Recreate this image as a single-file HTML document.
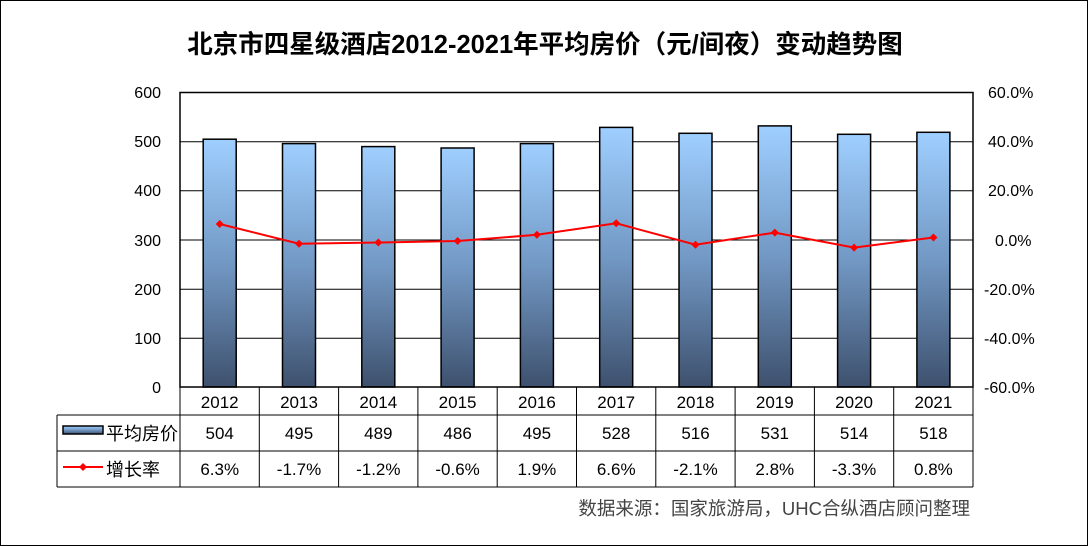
<!DOCTYPE html>
<html><head><meta charset="utf-8"><style>
html,body{margin:0;padding:0;background:#fff}
svg{display:block;font-family:"Liberation Sans","Noto Sans CJK SC",sans-serif}
</style></head><body>
<svg width="1088" height="546" viewBox="0 0 1088 546" xmlns="http://www.w3.org/2000/svg">
<defs>
<linearGradient id="g" x1="0" y1="0" x2="0" y2="1">
<stop offset="0" stop-color="#9fcfff"/><stop offset="0.5" stop-color="#7298c4"/><stop offset="1" stop-color="#3e516e"/>
</linearGradient>
</defs>
<rect x="0.5" y="0.5" width="1087" height="545" fill="#fff" stroke="#000"/>
<text x="545" y="53" text-anchor="middle" font-size="25.5" font-weight="bold" font-family="'Liberation Sans','Noto Sans CJK SC',sans-serif">北京市四星级酒店2012-2021年平均房价（元/间夜）变动趋势图</text>
<g stroke="#000" stroke-width="1">
<line x1="180" y1="141.7" x2="973" y2="141.7"/>
<line x1="180" y1="190.8" x2="973" y2="190.8"/>
<line x1="180" y1="240" x2="973" y2="240"/>
<line x1="180" y1="289.2" x2="973" y2="289.2"/>
<line x1="180" y1="338.3" x2="973" y2="338.3"/>
</g>
<g fill="url(#g)" stroke="#000" stroke-width="1.5">
<rect x="203.2" y="139.2" width="33" height="247.8"/>
<rect x="282.5" y="143.6" width="33" height="243.4"/>
<rect x="361.8" y="146.6" width="33" height="240.4"/>
<rect x="441.1" y="148.0" width="33" height="239"/>
<rect x="520.4" y="143.6" width="33" height="243.4"/>
<rect x="599.7" y="127.4" width="33" height="259.6"/>
<rect x="679.0" y="133.3" width="33" height="253.7"/>
<rect x="758.3" y="125.9" width="33" height="261.1"/>
<rect x="837.6" y="134.3" width="33" height="252.7"/>
<rect x="916.9" y="132.3" width="33" height="254.7"/>
</g>
<polyline fill="none" stroke="#f00" stroke-width="2" points="219.7,224 299,243.7 378.3,242.5 457.6,241 536.9,234.8 616.2,223.3 695.5,244.7 774.8,232.6 854.1,247.6 933.4,237.5"/>
<g fill="#f00">
<path d="M219.7,220 l4,4 -4,4 -4,-4z"/><path d="M299,239.7 l4,4 -4,4 -4,-4z"/><path d="M378.3,238.5 l4,4 -4,4 -4,-4z"/><path d="M457.6,237 l4,4 -4,4 -4,-4z"/><path d="M536.9,230.8 l4,4 -4,4 -4,-4z"/><path d="M616.2,219.3 l4,4 -4,4 -4,-4z"/><path d="M695.5,240.7 l4,4 -4,4 -4,-4z"/><path d="M774.8,228.6 l4,4 -4,4 -4,-4z"/><path d="M854.1,243.6 l4,4 -4,4 -4,-4z"/><path d="M933.4,233.5 l4,4 -4,4 -4,-4z"/>
</g>
<rect x="180" y="92.5" width="793" height="294.5" fill="none" stroke="#000" stroke-width="1.5"/>
<g font-size="16" text-anchor="end">
<text x="161" y="98">600</text><text x="161" y="147">500</text><text x="161" y="196">400</text><text x="161" y="246">300</text><text x="161" y="295">200</text><text x="161" y="344">100</text><text x="161" y="393">0</text>
</g>
<g font-size="16" text-anchor="start">
<text x="988" y="98">60.0%</text><text x="988" y="147">40.0%</text><text x="988" y="196">20.0%</text><text x="995" y="246">0.0%</text><text x="984" y="295">-20.0%</text><text x="984" y="344">-40.0%</text><text x="984" y="393">-60.0%</text>
</g>
<g stroke="#000" stroke-width="1">
<line x1="57" y1="415" x2="973" y2="415"/>
<line x1="57" y1="451" x2="973" y2="451"/>
<line x1="57" y1="487" x2="973" y2="487"/>
<line x1="57" y1="415" x2="57" y2="487"/>
<line x1="180" y1="387" x2="180" y2="487"/>
<line x1="259.3" y1="387" x2="259.3" y2="487"/><line x1="338.6" y1="387" x2="338.6" y2="487"/><line x1="417.9" y1="387" x2="417.9" y2="487"/><line x1="497.2" y1="387" x2="497.2" y2="487"/><line x1="576.5" y1="387" x2="576.5" y2="487"/><line x1="655.8" y1="387" x2="655.8" y2="487"/><line x1="735.1" y1="387" x2="735.1" y2="487"/><line x1="814.4" y1="387" x2="814.4" y2="487"/><line x1="893.7" y1="387" x2="893.7" y2="487"/>
<line x1="973" y1="387" x2="973" y2="487"/>
</g>
<g font-size="17" text-anchor="middle">
<text x="219.7" y="408">2012</text><text x="299" y="408">2013</text><text x="378.3" y="408">2014</text><text x="457.6" y="408">2015</text><text x="536.9" y="408">2016</text><text x="616.2" y="408">2017</text><text x="695.5" y="408">2018</text><text x="774.8" y="408">2019</text><text x="854.1" y="408">2020</text><text x="933.4" y="408">2021</text>
<text x="219.7" y="439">504</text><text x="299" y="439">495</text><text x="378.3" y="439">489</text><text x="457.6" y="439">486</text><text x="536.9" y="439">495</text><text x="616.2" y="439">528</text><text x="695.5" y="439">516</text><text x="774.8" y="439">531</text><text x="854.1" y="439">514</text><text x="933.4" y="439">518</text>
<text x="219.7" y="475">6.3%</text><text x="299" y="475">-1.7%</text><text x="378.3" y="475">-1.2%</text><text x="457.6" y="475">-0.6%</text><text x="536.9" y="475">1.9%</text><text x="616.2" y="475">6.6%</text><text x="695.5" y="475">-2.1%</text><text x="774.8" y="475">2.8%</text><text x="854.1" y="475">-3.3%</text><text x="933.4" y="475">0.8%</text>
</g>
<rect x="63" y="426" width="40" height="8" fill="url(#g)" stroke="#000" stroke-width="1.5"/>
<text x="106" y="440" font-size="18">平均房价</text>
<line x1="63" y1="467" x2="103" y2="467" stroke="#f00" stroke-width="2"/>
<path d="M83,463 l4,4 -4,4 -4,-4z" fill="#f00"/>
<text x="106" y="476" font-size="18">增长率</text>
<text x="970" y="515" font-size="18.5" fill="#444" text-anchor="end">数据来源：国家旅游局，UHC合纵酒店顾问整理</text>
</svg>
</body></html>
